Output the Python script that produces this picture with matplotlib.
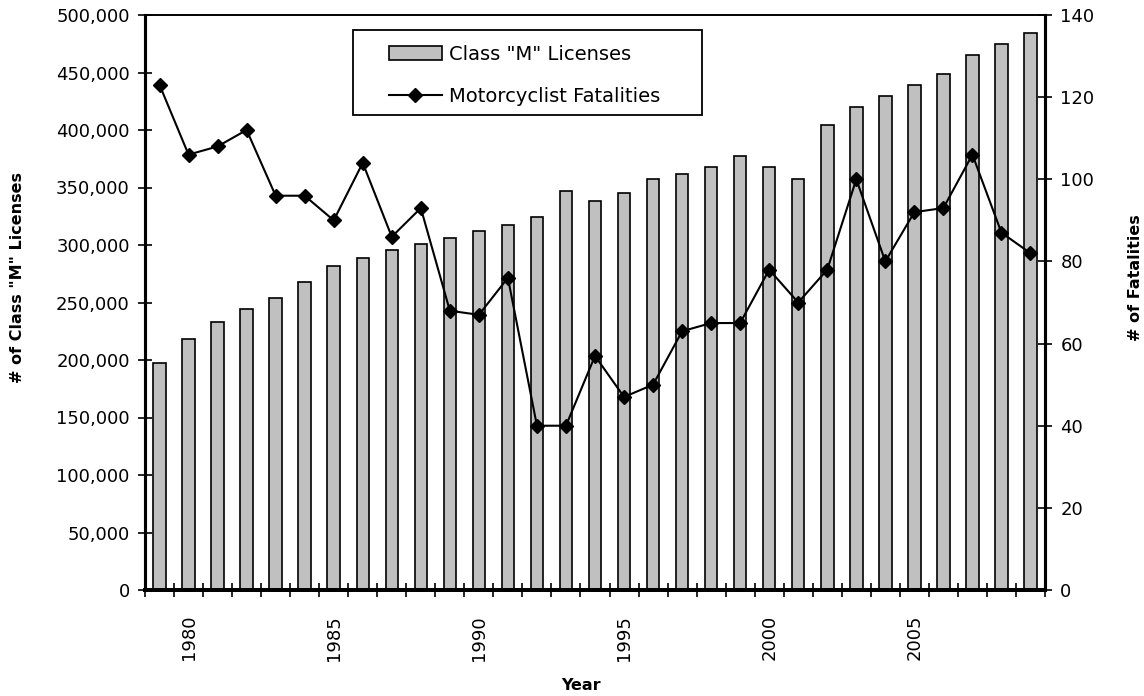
import matplotlib.pyplot as plt
import matplotlib.patches as mpatches
import numpy as np
from matplotlib.ticker import FuncFormatter, FixedLocator

# Data
years = list(range(1979, 2010))
licenses = [197000, 218000, 233000, 244000, 254000, 268000, 282000, 289000, 296000, 301000,
            306000, 312000, 317000, 324000, 347000, 338000, 345000, 357000, 362000, 368000,
            377000, 368000, 357000, 404000, 420000, 430000, 439000, 449000, 465000, 475000,
            484000]
fatalities = [123, 106, 108, 112, 96, 96, 90, 104, 86, 93,
              68, 67, 76, 40, 40, 57, 47, 50, 63, 65,
              65, 78, 70, 78, 100, 80, 92, 93, 106, 87,
              82]
label_years = [1980, 1985, 1990, 1995, 2000, 2005]

x = np.arange(len(years))

fig = plt.figure(figsize=(11.44, 6.96), dpi=100)
ax = fig.add_axes([145 / 1144, 106 / 696, 900 / 1144, 575 / 696])
ax2 = ax.twinx()

bars = ax.bar(x, licenses, width=0.43, color='#c0c0c0', edgecolor='black', linewidth=1.2,
              label='Class "M" Licenses', zorder=2)
line, = ax2.plot(x, fatalities, color='black', linewidth=1.5, marker='D', markersize=7.5,
                 label='Motorcyclist Fatalities', zorder=3)

ax.set_xlim(-0.5, len(years) - 0.5)
ax.set_ylim(0, 500000)
ax2.set_ylim(0, 140)
ax.set_yticks(np.arange(0, 500001, 50000))
ax2.set_yticks(np.arange(0, 141, 20))
ax.yaxis.set_major_formatter(FuncFormatter(lambda v, p: f"{int(v):,}"))

# year labels on category centres, ticks on category boundaries
ax.set_xticks([years.index(y) for y in label_years])
ax.set_xticklabels([str(y) for y in label_years], rotation=90, fontsize=13)
ax.xaxis.set_minor_locator(FixedLocator(np.arange(-0.5, len(years), 1.0)))
ax.tick_params(axis='x', which='major', length=0, pad=18)
ax.tick_params(axis='x', which='minor', direction='inout', length=10, width=1.2)
ax.tick_params(axis='y', labelsize=13, direction='inout', length=10, width=1.2, pad=6)
ax2.tick_params(axis='y', labelsize=13, direction='inout', length=10, width=1.2, pad=6)

for a in (ax, ax2):
    a.spines['left'].set_linewidth(2.2)
    a.spines['right'].set_linewidth(2.2)
    a.spines['bottom'].set_linewidth(2.8)
    a.spines['top'].set_linewidth(1.2)

ax.set_xlabel('Year', fontsize=11.5, fontweight='bold')
ax.xaxis.set_label_coords(0.484, -0.153)
ax.set_ylabel('# of Class "M" Licenses', fontsize=11.5, fontweight='bold')
ax.yaxis.set_label_coords(-0.133, 0.543)
ax2.set_ylabel('# of Fatalities', fontsize=11.5, fontweight='bold')
ax2.yaxis.set_label_coords(1.092, 0.543)

# legend box drawn separately so its padding matches the reference
box = mpatches.Rectangle((0.2311, 0.826), 0.3878, 0.148, transform=ax2.transAxes,
                         facecolor='white', edgecolor='black', linewidth=1.3, zorder=4)
ax2.add_patch(box)
leg = ax2.legend([bars, line], ['Class "M" Licenses', 'Motorcyclist Fatalities'],
                 loc='upper left', bbox_to_anchor=(0.271, 0.9484), frameon=False,
                 borderpad=0, borderaxespad=0, labelspacing=1.2, handlelength=2.73,
                 handletextpad=0.36, prop={'family': 'DejaVu Sans', 'size': 14})
leg.set_zorder(5)

fig.savefig('out.png', dpi=100)
